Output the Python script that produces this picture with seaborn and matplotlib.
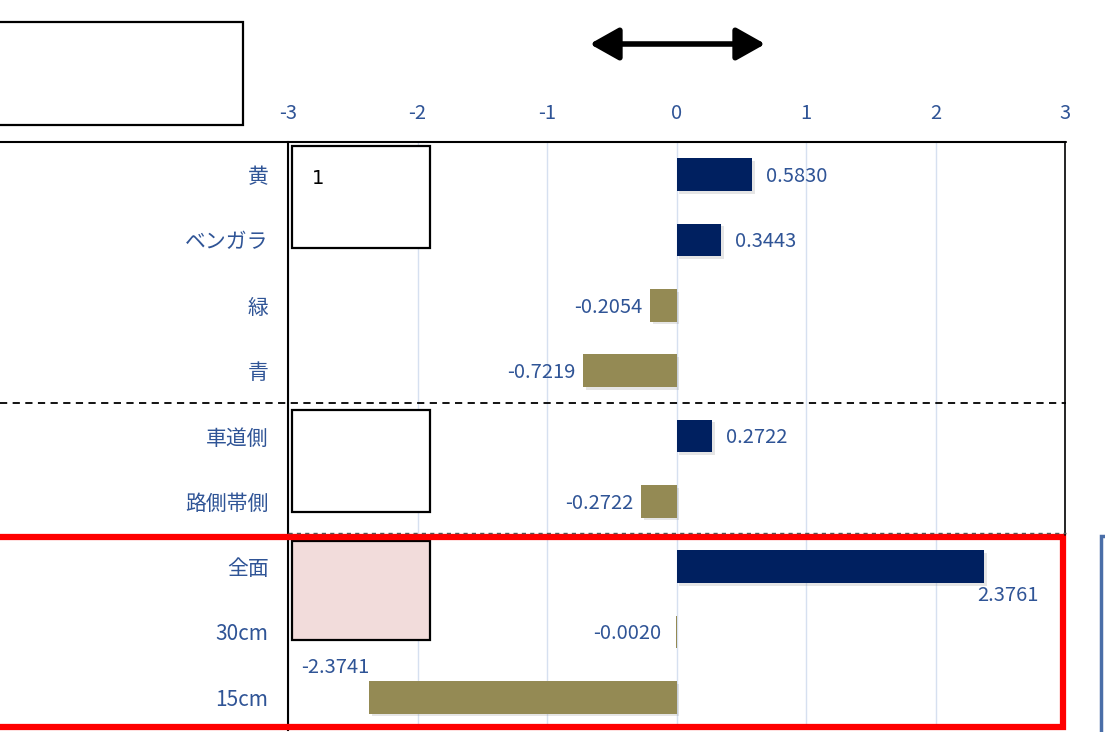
import matplotlib
matplotlib.use("Agg")
import matplotlib.pyplot as plt
import seaborn as sns
import pandas as pd
from matplotlib.patches import Rectangle, FancyArrowPatch
from matplotlib.lines import Line2D
import matplotlib.patheffects as pe

categories = ["黄", "ベンガラ", "緑", "青", "車道側", "路側帯側", "全面", "30cm", "15cm"]
values = [0.5830, 0.3443, -0.2054, -0.7219, 0.2722, -0.2722, 2.3761, -0.0020, -2.3741]
value_labels = ["0.5830", "0.3443", "-0.2054", "-0.7219", "0.2722", "-0.2722", "2.3761", "-0.0020", "-2.3741"]
x_ticks = [-3, -2, -1, 0, 1, 2, 3]

sns.set_style("white")
plt.rcParams['font.family'] = ['Noto Sans CJK JP', 'DejaVu Sans']

W, H = 1105, 732
fig = plt.figure(figsize=(W / 100, H / 100), dpi=100)

def fx(x):
    return x / W

def fy(y):
    return 1 - y / H

ax = fig.add_axes([fx(288), fy(730), fx(1065) - fx(288), fy(142) - fy(730)])

df = pd.DataFrame({"cat": categories, "val": values,
                   "sign": ["pos" if v >= 0 else "neg" for v in values]})
sns.barplot(data=df, x="val", y="cat", hue="sign", palette={"pos": "#002060", "neg": "#948a54"},
            dodge=False, legend=False, width=0.5, ax=ax, orient="h", saturation=1, linewidth=0)
for p in ax.patches:
    p.set_linewidth(0)
    p.set_path_effects([pe.SimplePatchShadow(offset=(2, -2), shadow_rgbFace="#999999", alpha=0.25),
                        pe.Normal()])

txt_color = "#2f5496"
fs = 14.5
ax.set_xlim(-3, 3)
ax.set_ylim(len(categories) - 0.5, -0.5)
ax.xaxis.tick_top()
ax.set_xticks(x_ticks)
ax.set_xticklabels([str(t) for t in x_ticks], color=txt_color, fontsize=fs)
ax.tick_params(axis="x", length=0, pad=13)
ax.tick_params(axis="y", length=0, pad=14, labelsize=15, labelcolor=txt_color)
ax.set_xlabel("")
ax.set_ylabel("")
for t in x_ticks:
    ax.axvline(t, color="#d6e0f0", lw=1, zorder=0)
for s in ax.spines.values():
    s.set_visible(False)
ax.spines["left"].set_visible(True)
ax.spines["left"].set_color("black")
ax.spines["left"].set_linewidth(1.5)

# value labels
for i, (v, lab) in enumerate(zip(values, value_labels)):
    if i == 6:
        ax.text(v + 0.18, i + 0.44, lab, ha="center", va="center", color=txt_color, fontsize=fs)
    elif i == 8:
        ax.text(v - 0.26, i - 0.46, lab, ha="center", va="center", color=txt_color, fontsize=fs)
    elif i == 7:
        ax.text(-0.12, i + 0.02, lab, ha="right", va="center", color=txt_color, fontsize=fs)
    elif v >= 0:
        ax.text(v + 0.11, i + 0.03, lab, ha="left", va="center", color=txt_color, fontsize=fs)
    else:
        ax.text(v - 0.06, i + 0.03, lab, ha="right", va="center", color=txt_color, fontsize=fs)

# frame lines
fig.add_artist(Line2D([fx(0), fx(1066)], [fy(142), fy(142)], color="black", lw=1.5))
fig.add_artist(Line2D([fx(1065), fx(1065)], [fy(142), fy(535)], color="black", lw=1.2))
fig.add_artist(Line2D([fx(0), fx(1066)], [fy(403), fy(403)], color="black", lw=1.3, ls=(0, (4, 3))))
fig.add_artist(Line2D([fx(288), fx(1066)], [fy(533), fy(533)], color="#555555", lw=1.0, ls=(0, (3, 3))))

# boxes
def box(x0, y0, x1, y1, fc="white", ec="black", lw=1.6):
    fig.add_artist(Rectangle((fx(x0), fy(y1)), fx(x1) - fx(x0), fy(y0) - fy(y1),
                             transform=fig.transFigure, fc=fc, ec=ec, lw=lw))

box(-5, 22, 243, 125)
box(292, 146, 430, 248)
box(292, 410, 430, 512)
box(292, 541, 430, 640, fc="#f2dcdb")
fig.text(fx(318), fy(178), "1", ha="center", va="center", fontsize=14, color="black",
         family=["DejaVu Sans"])

# red rectangle
fig.add_artist(Rectangle((fx(-10), fy(727)), fx(1063) - fx(-10), fy(537) - fy(727),
                         transform=fig.transFigure, fc="none", ec="#ff0000", lw=4.5))
# partially visible blue box at right
fig.add_artist(Rectangle((fx(1101), fy(745)), fx(1130) - fx(1101), fy(536) - fy(745),
                         transform=fig.transFigure, fc="white", ec="#4a6ea8", lw=2.5))

# double arrow
fig.add_artist(FancyArrowPatch((fx(587), fy(44)), (fx(768), fy(44)),
               transform=fig.transFigure, arrowstyle="<|-|>,head_length=8,head_width=4.5",
               color="black", lw=4, mutation_scale=2.2))

fig.savefig("out.png", dpi=100)
